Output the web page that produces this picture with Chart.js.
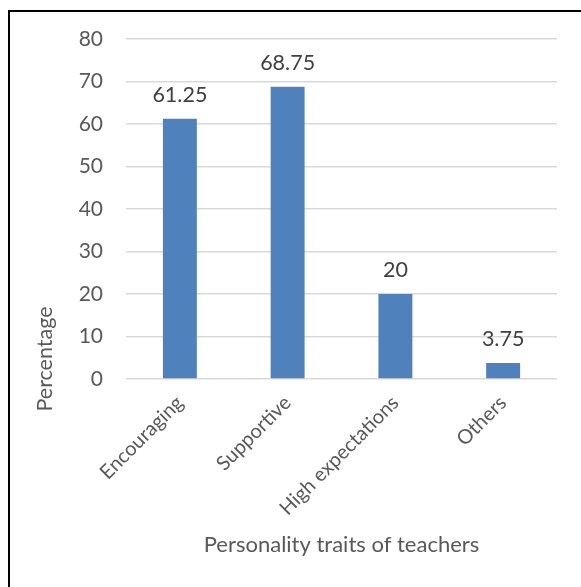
<!DOCTYPE html>
<html>
<head>
<meta charset="utf-8">
<script src="https://cdn.jsdelivr.net/npm/chart.js@4/dist/chart.umd.min.js"></script>
<style>
  html, body { margin: 0; padding: 0; background: #fff; }
  #wrap { width: 581px; height: 587px; position: relative; }
</style>
</head>
<body>
<div id="wrap"><canvas id="c" width="581" height="587"></canvas></div>
<script>
const categories = ["Encouraging", "Supportive", "High expectations", "Others"];
const percentages = [61.25, 68.75, 20, 3.75];
const valueLabels = ["61.25", "68.75", "20", "3.75"];
const yTicks = [0, 10, 20, 30, 40, 50, 60, 70, 80];
const xTitle = "Personality traits of teachers";
const yTitle = "Percentage";

const FONT = "Lato, 'Open Sans', sans-serif";
const GRAY = "#595959";

const framePlugin = {
  id: "frame",
  beforeDraw(chart) {
    const ctx = chart.ctx;
    ctx.save();
    ctx.fillStyle = "#fff";
    ctx.fillRect(0, 0, chart.width, chart.height);
    ctx.strokeStyle = "#000";
    ctx.lineWidth = 2;
    ctx.beginPath();
    ctx.moveTo(9, chart.height + 5);
    ctx.lineTo(9, 11);
    ctx.lineTo(chart.width + 5, 11);
    ctx.stroke();
    ctx.restore();
  }
};

const labelPlugin = {
  id: "valueLabels",
  afterDatasetsDraw(chart) {
    const ctx = chart.ctx;
    const meta = chart.getDatasetMeta(0);
    ctx.save();
    ctx.font = "21.5px " + FONT;
    ctx.fillStyle = "#404040";
    ctx.textAlign = "center";
    ctx.textBaseline = "alphabetic";
    meta.data.forEach((bar, i) => {
      ctx.fillText(valueLabels[i], bar.x, bar.y - 17);
    });
    ctx.restore();
  }
};

const yTitlePlugin = {
  id: "yTitle",
  afterDraw(chart) {
    const ctx = chart.ctx;
    ctx.save();
    ctx.font = "21.5px " + FONT;
    ctx.fillStyle = GRAY;
    ctx.textAlign = "center";
    ctx.textBaseline = "middle";
    ctx.translate(45, 359);
    ctx.rotate(-Math.PI / 2);
    ctx.fillText(yTitle, 0, 0);
    ctx.restore();
  }
};

new Chart(document.getElementById("c"), {
  type: "bar",
  data: {
    labels: categories,
    datasets: [{
      data: percentages,
      backgroundColor: "#4f81bd",
      borderWidth: 0,
      barPercentage: 0.315,
      categoryPercentage: 1
    }]
  },
  options: {
    responsive: false,
    animation: false,
    devicePixelRatio: 1,
    layout: { padding: { left: 0, right: 24, top: 39, bottom: 29 } },
    plugins: { legend: { display: false }, tooltip: { enabled: false } },
    scales: {
      x: {
        grid: { display: false, drawTicks: false },
        border: { display: false },
        ticks: {
          color: GRAY,
          font: { family: FONT, size: 20 },
          minRotation: 45,
          maxRotation: 45,
          padding: 12
        },
        title: {
          display: true,
          text: xTitle,
          color: GRAY,
          font: { family: FONT, size: 22 },
          padding: { top: 0, bottom: 0 }
        },
        afterFit(scale) { scale.height = 179; }
      },
      y: {
        min: 0,
        max: 80,
        afterBuildTicks(scale) { scale.ticks = yTicks.map(v => ({ value: v })); },
        grid: { color: "#d9d9d9", lineWidth: 1.5, drawTicks: false },
        border: { display: false },
        ticks: {
          color: GRAY,
          font: { family: FONT, size: 21 },
          padding: 23
        },
        afterFit(scale) { scale.width = 126; }
      }
    }
  },
  plugins: [framePlugin, labelPlugin, yTitlePlugin]
});
</script>
</body>
</html>
